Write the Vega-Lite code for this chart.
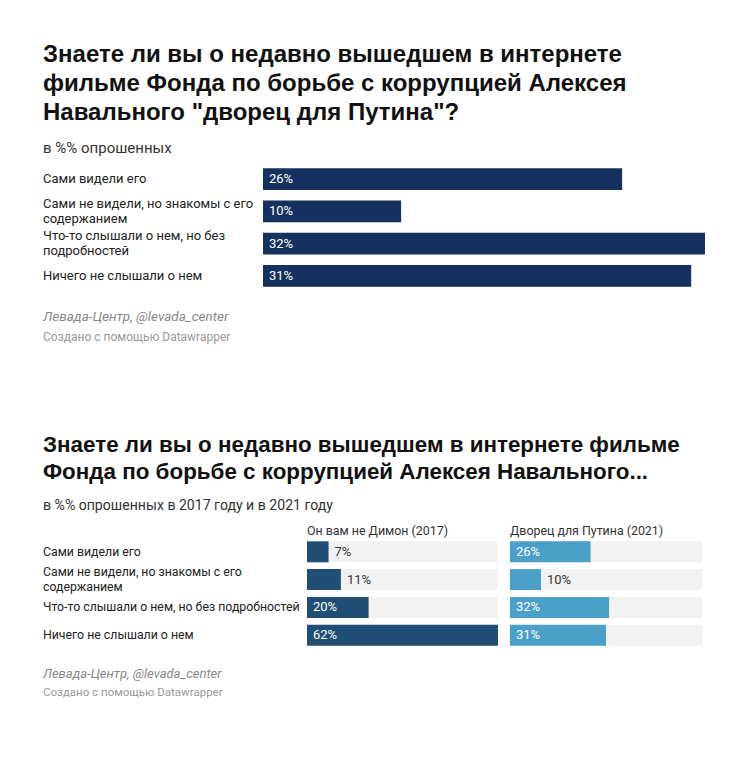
{
  "$schema": "https://vega.github.io/schema/vega-lite/v6.json",
  "background": "white",
  "padding": {"left": 43, "top": 43, "right": 0, "bottom": 0},
  "spacing": 87,
  "datasets": {
    "palace": [
      {"answer": "Сами видели его", "share": 0.26},
      {"answer": "Сами не видели, но знакомы с его\nсодержанием", "share": 0.10},
      {"answer": "Что-то слышали о нем, но без\nподробностей", "share": 0.32},
      {"answer": "Ничего не слышали о нем", "share": 0.31}
    ],
    "compare": [
      {"film": "Он вам не Димон (2017)", "answer": "Сами видели его", "share": 0.07},
      {"film": "Он вам не Димон (2017)", "answer": "Сами не видели, но знакомы с его\nсодержанием", "share": 0.11},
      {"film": "Он вам не Димон (2017)", "answer": "Что-то слышали о нем, но без подробностей", "share": 0.20},
      {"film": "Он вам не Димон (2017)", "answer": "Ничего не слышали о нем", "share": 0.62},
      {"film": "Дворец для Путина (2021)", "answer": "Сами видели его", "share": 0.26},
      {"film": "Дворец для Путина (2021)", "answer": "Сами не видели, но знакомы с его\nсодержанием", "share": 0.10},
      {"film": "Дворец для Путина (2021)", "answer": "Что-то слышали о нем, но без подробностей", "share": 0.32},
      {"film": "Дворец для Путина (2021)", "answer": "Ничего не слышали о нем", "share": 0.31}
    ],
    "credits": [
      {"line": "Левада-Центр, @levada_center", "kind": "source"},
      {"line": "Создано с помощью Datawrapper", "kind": "byline"}
    ]
  },
  "vconcat": [
    {
      "spacing": 15,
      "vconcat": [
        {
          "title": {
            "text": ["Знаете ли вы о недавно вышедшем в интернете", "фильме Фонда по борьбе с коррупцией Алексея", "Навального \"дворец для Путина\"?"],
            "subtitle": "в %% опрошенных",
            "anchor": "start",
            "frame": "bounds",
            "font": "Liberation Sans",
            "fontSize": 24,
            "fontWeight": "bold",
            "lineHeight": 29,
            "color": "#111111",
            "subtitleFont": "Roboto",
            "subtitleFontSize": 15,
            "subtitleColor": "#333333",
            "subtitlePadding": 16,
            "offset": 7
          },
          "data": {"name": "palace"},
          "spacing": 5,
          "hconcat": [
            {
              "width": 215,
              "height": 129,
              "encoding": {
                "y": {
                  "field": "answer",
                  "type": "nominal",
                  "sort": ["Сами видели его", "Сами не видели, но знакомы с его\nсодержанием", "Что-то слышали о нем, но без\nподробностей", "Ничего не слышали о нем"],
                  "scale": {"paddingInner": 0.32, "paddingOuter": 0.16},
                  "axis": null
                },
                "x": {"value": 0},
                "text": {"field": "answer"}
              },
              "layer": [
                {
                  "transform": [{"filter": "indexof(datum.answer, '\\n') < 0"}],
                  "mark": {"type": "text", "align": "left", "baseline": "middle", "fontSize": 13, "color": "#222222"}
                },
                {
                  "transform": [{"filter": "indexof(datum.answer, '\\n') >= 0"}],
                  "mark": {"type": "text", "align": "left", "baseline": "middle", "fontSize": 13, "color": "#222222", "lineBreak": "\n", "lineHeight": 15, "dy": -7.5}
                }
              ]
            },
            {
              "width": 442,
              "height": 129,
              "encoding": {
                "y": {
                  "field": "answer",
                  "type": "nominal",
                  "sort": ["Сами видели его", "Сами не видели, но знакомы с его\nсодержанием", "Что-то слышали о нем, но без\nподробностей", "Ничего не слышали о нем"],
                  "scale": {"paddingInner": 0.32, "paddingOuter": 0.16},
                  "axis": null
                }
              },
              "layer": [
                {
                  "mark": {"type": "bar", "color": "#15315f"},
                  "encoding": {
                    "x": {"field": "share", "type": "quantitative", "scale": {"domain": [0, 0.32], "nice": false}, "axis": null}
                  }
                },
                {
                  "mark": {"type": "text", "align": "left", "baseline": "middle", "dx": 6, "color": "white", "fontSize": 13},
                  "encoding": {
                    "x": {"datum": 0, "type": "quantitative"},
                    "text": {"field": "share", "type": "quantitative", "format": ".0%"}
                  }
                }
              ]
            }
          ]
        },
        {
          "width": 442,
          "height": 40,
          "data": {"name": "credits"},
          "encoding": {
            "y": {"field": "line", "type": "nominal", "sort": null, "scale": {"paddingInner": 0, "paddingOuter": 0}, "axis": null},
            "x": {"value": 0},
            "text": {"field": "line"}
          },
          "layer": [
            {
              "transform": [{"filter": "datum.kind == 'source'"}],
              "mark": {"type": "text", "align": "left", "baseline": "middle", "fontSize": 13.5, "fontStyle": "italic", "color": "#888888"}
            },
            {
              "transform": [{"filter": "datum.kind == 'byline'"}],
              "mark": {"type": "text", "align": "left", "baseline": "middle", "fontSize": 12, "color": "#999999"}
            }
          ]
        }
      ]
    },
    {
      "spacing": 15.5,
      "vconcat": [
        {
          "title": {
            "text": ["Знаете ли вы о недавно вышедшем в интернете фильме", "Фонда по борьбе с коррупцией Алексея Навального..."],
            "subtitle": "в %% опрошенных в 2017 году и в 2021 году",
            "anchor": "start",
            "frame": "bounds",
            "font": "Liberation Sans",
            "fontSize": 22.4,
            "fontWeight": "bold",
            "lineHeight": 27,
            "color": "#111111",
            "subtitleFont": "Roboto",
            "subtitleFontSize": 14.1,
            "subtitleColor": "#333333",
            "subtitlePadding": 15,
            "offset": 12
          },
          "data": {"name": "compare"},
          "spacing": 2,
          "hconcat": [
            {
              "width": 262,
              "height": 111,
              "transform": [{"filter": "datum.film == 'Он вам не Димон (2017)'"}],
              "encoding": {
                "y": {
                  "field": "answer",
                  "type": "nominal",
                  "sort": ["Сами видели его", "Сами не видели, но знакомы с его\nсодержанием", "Что-то слышали о нем, но без подробностей", "Ничего не слышали о нем"],
                  "scale": {"paddingInner": 0.245, "paddingOuter": 0.12},
                  "axis": null
                },
                "x": {"value": 0},
                "text": {"field": "answer"}
              },
              "layer": [
                {
                  "transform": [{"filter": "indexof(datum.answer, '\\n') < 0"}],
                  "mark": {"type": "text", "align": "left", "baseline": "middle", "fontSize": 12.3, "color": "#222222"}
                },
                {
                  "transform": [{"filter": "indexof(datum.answer, '\\n') >= 0"}],
                  "mark": {"type": "text", "align": "left", "baseline": "middle", "fontSize": 12.3, "color": "#222222", "lineBreak": "\n", "lineHeight": 15, "dy": -7.5}
                }
              ]
            },
            {
              "spacing": 12,
              "hconcat": [
                {
                  "title": {"text": "Он вам не Димон (2017)", "anchor": "start", "fontSize": 12.4, "fontWeight": "normal", "color": "#333333", "offset": 1},
                  "width": 191,
                  "height": 111,
                  "transform": [{"filter": "datum.film == 'Он вам не Димон (2017)'"}],
                  "encoding": {
                    "y": {
                      "field": "answer",
                      "type": "nominal",
                      "sort": ["Сами видели его", "Сами не видели, но знакомы с его\nсодержанием", "Что-то слышали о нем, но без подробностей", "Ничего не слышали о нем"],
                      "scale": {"paddingInner": 0.245, "paddingOuter": 0.12},
                      "axis": null
                    }
                  },
                  "layer": [
                    {
                      "mark": {"type": "bar", "color": "#f2f2f2"},
                      "encoding": {"x": {"datum": 0.62, "type": "quantitative", "scale": {"domain": [0, 0.62], "nice": false}, "axis": null}}
                    },
                    {
                      "mark": {"type": "bar", "color": "#214e74"},
                      "encoding": {"x": {"field": "share", "type": "quantitative", "axis": null}}
                    },
                    {
                      "transform": [{"filter": "datum.share >= 0.15"}],
                      "mark": {"type": "text", "align": "left", "baseline": "middle", "dx": 6, "color": "white", "fontSize": 13},
                      "encoding": {
                        "x": {"datum": 0, "type": "quantitative"},
                        "text": {"field": "share", "type": "quantitative", "format": ".0%"}
                      }
                    },
                    {
                      "transform": [{"filter": "datum.share < 0.15"}],
                      "mark": {"type": "text", "align": "left", "baseline": "middle", "dx": 6, "color": "#333333", "fontSize": 13},
                      "encoding": {
                        "x": {"field": "share", "type": "quantitative"},
                        "text": {"field": "share", "type": "quantitative", "format": ".0%"}
                      }
                    }
                  ]
                },
                {
                  "title": {"text": "Дворец для Путина (2021)", "anchor": "start", "fontSize": 12.4, "fontWeight": "normal", "color": "#333333", "offset": 1},
                  "width": 192,
                  "height": 111,
                  "transform": [{"filter": "datum.film == 'Дворец для Путина (2021)'"}],
                  "encoding": {
                    "y": {
                      "field": "answer",
                      "type": "nominal",
                      "sort": ["Сами видели его", "Сами не видели, но знакомы с его\nсодержанием", "Что-то слышали о нем, но без подробностей", "Ничего не слышали о нем"],
                      "scale": {"paddingInner": 0.245, "paddingOuter": 0.12},
                      "axis": null
                    }
                  },
                  "layer": [
                    {
                      "mark": {"type": "bar", "color": "#f2f2f2"},
                      "encoding": {"x": {"datum": 0.62, "type": "quantitative", "scale": {"domain": [0, 0.62], "nice": false}, "axis": null}}
                    },
                    {
                      "mark": {"type": "bar", "color": "#4ba0c9"},
                      "encoding": {"x": {"field": "share", "type": "quantitative", "axis": null}}
                    },
                    {
                      "transform": [{"filter": "datum.share >= 0.15"}],
                      "mark": {"type": "text", "align": "left", "baseline": "middle", "dx": 6, "color": "white", "fontSize": 13},
                      "encoding": {
                        "x": {"datum": 0, "type": "quantitative"},
                        "text": {"field": "share", "type": "quantitative", "format": ".0%"}
                      }
                    },
                    {
                      "transform": [{"filter": "datum.share < 0.15"}],
                      "mark": {"type": "text", "align": "left", "baseline": "middle", "dx": 6, "color": "#333333", "fontSize": 13},
                      "encoding": {
                        "x": {"field": "share", "type": "quantitative"},
                        "text": {"field": "share", "type": "quantitative", "format": ".0%"}
                      }
                    }
                  ]
                }
              ]
            }
          ]
        },
        {
          "width": 400,
          "height": 38,
          "data": {"name": "credits"},
          "encoding": {
            "y": {"field": "line", "type": "nominal", "sort": null, "scale": {"paddingInner": 0, "paddingOuter": 0}, "axis": null},
            "x": {"value": 0},
            "text": {"field": "line"}
          },
          "layer": [
            {
              "transform": [{"filter": "datum.kind == 'source'"}],
              "mark": {"type": "text", "align": "left", "baseline": "middle", "fontSize": 13, "fontStyle": "italic", "color": "#888888"}
            },
            {
              "transform": [{"filter": "datum.kind == 'byline'"}],
              "mark": {"type": "text", "align": "left", "baseline": "middle", "fontSize": 11.5, "color": "#999999"}
            }
          ]
        }
      ]
    }
  ],
  "config": {
    "font": "Roboto",
    "view": {"stroke": null}
  }
}
